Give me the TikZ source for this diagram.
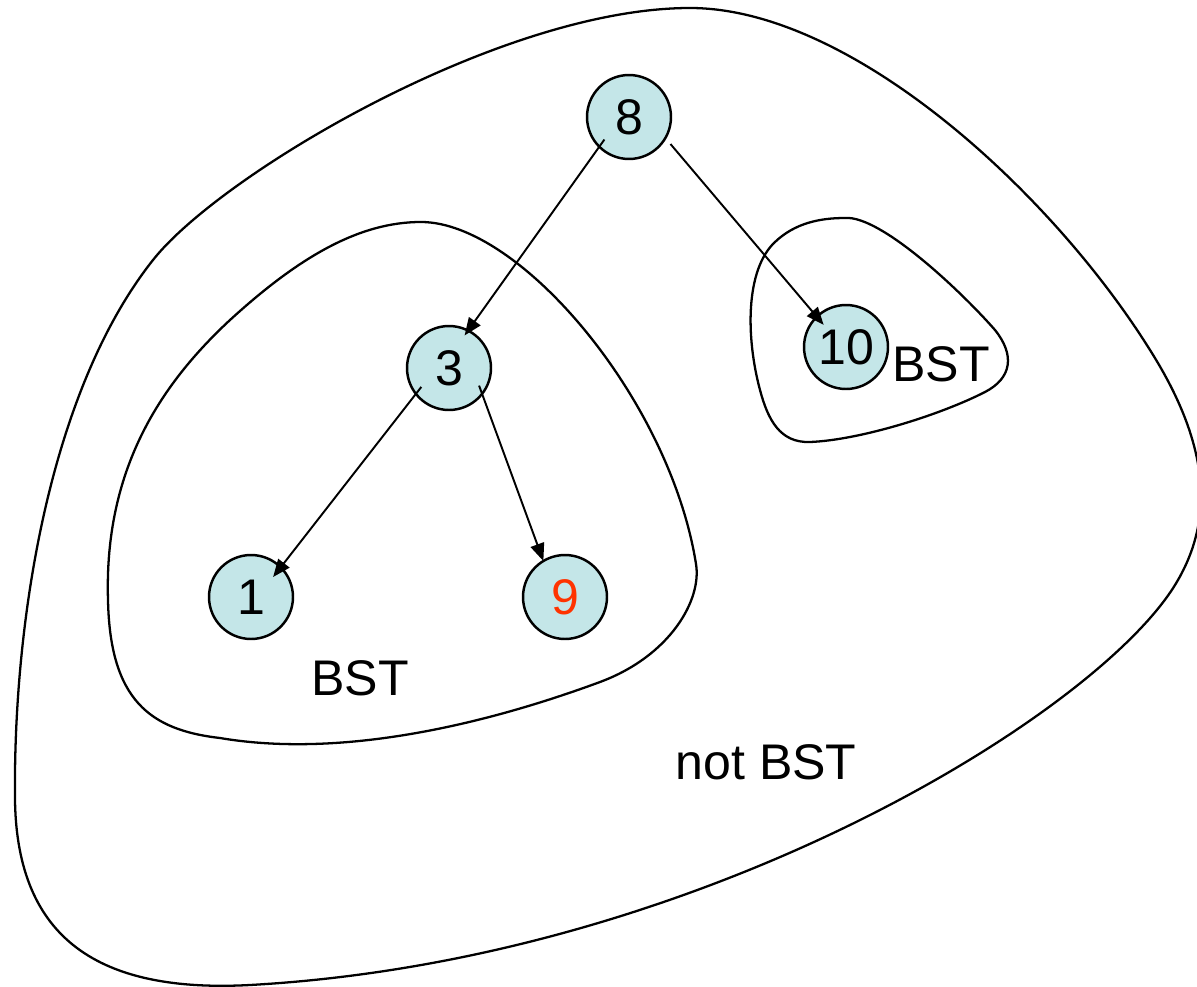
\documentclass[tikz,border=0pt]{standalone}
\usepackage{fontspec}
\setmainfont{Liberation Sans}
\usetikzlibrary{arrows.meta}
\definecolor{nodefill}{RGB}{196,230,232}
\definecolor{badred}{RGB}{255,51,0}
\tikzset{
  treenode/.style={circle, draw=black, line width=1.4pt, fill=nodefill, minimum size=1.68cm, inner sep=0pt, outer sep=0pt, font=\fontsize{28.5}{34}\selectfont},
  edge/.style={line width=1.1pt, -{Triangle[length=10pt,width=8pt]}},
  blob/.style={draw=black, line width=1.3pt},
  lbl/.style={font=\fontsize{28.5}{34}\selectfont, inner sep=0pt}
}
\begin{document}
\begin{tikzpicture}[x=0.02cm, y=-0.02cm]
\useasboundingbox (0,0) rectangle (1197,987);
\clip (0,0) rectangle (1197,987);
% outer region (not BST)
\draw[blob] (690,8)
  .. controls (850,8) and (1050,190) .. (1150,350)
  .. controls (1210,445) and (1215,520) .. (1175,585)
  .. controls (1095,715) and (700,960) .. (250,985)
  .. controls (100,993) and (17,940) .. (15,800)
  .. controls (13,620) and (50,390) .. (153,260)
  .. controls (220,175) and (500,8) .. (690,8) -- cycle;
% inner BST region
\draw[blob] (421,222)
  .. controls (520,222) and (670,400) .. (696,564)
  .. controls (702,600) and (670,656) .. (600,682)
  .. controls (500,719) and (350,760) .. (220,738)
  .. controls (150,730) and (110,700) .. (108,600)
  .. controls (104,470) and (160,385) .. (230,320)
  .. controls (300,256) and (360,222) .. (421,222) -- cycle;
% small BST region
\draw[blob] (845,218)
  .. controls (880,215) and (960,290) .. (995,330)
  .. controls (1015,355) and (1012,378) .. (985,392)
  .. controls (940,415) and (860,440) .. (810,442)
  .. controls (780,443) and (768,420) .. (760,390)
  .. controls (746,338) and (745,270) .. (775,242)
  .. controls (795,223) and (820,218) .. (845,218) -- cycle;
% nodes
\node[treenode] (n8) at (629,117) {8};
\node[treenode] (n3) at (449,368) {3};
\node[treenode] (n1) at (251,597) {1};
\node[treenode, text=badred] (n9) at (565,597) {9};
\node[treenode] (n10) at (846,347) {10};
% labels
\node[lbl] (l1) at (360,678) {BST};
\node[lbl] (l2) at (941,364) {BST};
\node[lbl] (l3) at (766,762) {not BST};
% edges
\draw[edge, shorten <=-5pt, shorten >=-3.4pt] (n8.225) -- (n3.63);
\draw[edge, shorten <=4.5pt, shorten >=-6pt] (n8.330) -- (n10.134);
\draw[edge, shorten <=-5pt, shorten >=-7pt] (n3.218) -- (n1.45);
\draw[edge, shorten <=-5pt] (n3.322) -- (n9.121);
\end{tikzpicture}
\end{document}
